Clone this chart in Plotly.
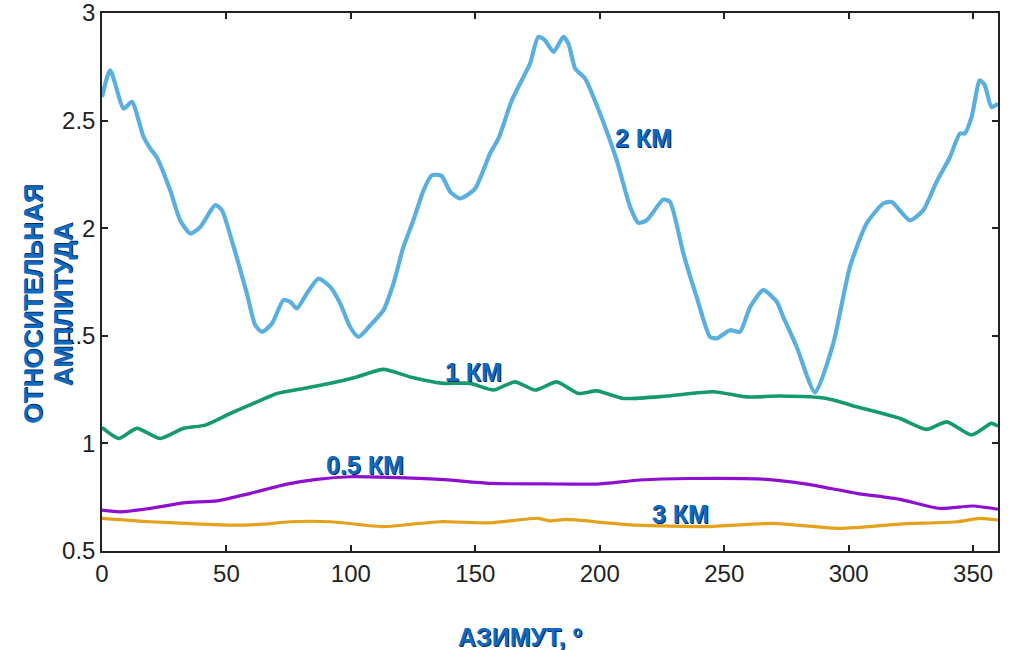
import plotly.graph_objects as go

# 2 KM series
az_2km = [0, 3.3, 8.7, 12, 16.7, 19.4, 22, 27.4, 31.4, 35.5, 39.5, 45.5, 48.2, 52.9, 58.2, 61.6, 64.3,
          68.3, 72.9, 75.6, 78.3, 82.3, 87, 91.7, 95.7, 99.7, 103, 107.8, 113.1, 117.1, 121.1, 125.1,
          129.2, 132.5, 136.5, 139.9, 143.9, 149.9, 155.9, 159.3, 164.7, 170, 172, 175.3, 178, 181.4,
          185.4, 187.4, 190.1, 194.1, 201.4, 206.8, 212.2, 215.5, 218.9, 225.5, 228.2, 233.6, 238.9,
          244.3, 247, 252.3, 256.3, 260.4, 265.7, 271.1, 273.7, 279.1, 286.5, 293.8, 300.5, 307.2,
          313.9, 317.3, 324.6, 330, 335.3, 340.7, 344.7, 346.7, 349.4, 352.7, 354.7, 357.4, 360]
amp_2km = [2.61, 2.734, 2.556, 2.587, 2.424, 2.37, 2.33, 2.176, 2.037, 1.975, 2.006, 2.107, 2.083, 1.913,
           1.697, 1.549, 1.518, 1.557, 1.666, 1.658, 1.627, 1.697, 1.766, 1.727, 1.65, 1.541, 1.495,
           1.549, 1.619, 1.743, 1.913, 2.037, 2.176, 2.246, 2.242, 2.169, 2.138, 2.184, 2.347, 2.417,
           2.595, 2.718, 2.765, 2.889, 2.873, 2.819, 2.889, 2.858, 2.742, 2.695, 2.494, 2.316, 2.099,
           2.025, 2.037, 2.133, 2.122, 1.882, 1.681, 1.495, 1.488, 1.526, 1.518, 1.634, 1.712, 1.658,
           1.588, 1.449, 1.237, 1.464, 1.82, 2.022, 2.115, 2.122, 2.037, 2.084, 2.215, 2.331, 2.44,
           2.44, 2.517, 2.687, 2.664, 2.563, 2.579]

# 1 KM series
az_1km = [0, 6.7, 14, 23.4, 32.8, 41.5, 51.5, 60.9, 70.3, 81, 91.7, 102.4, 113.1, 123.8, 137.2, 147.9,
          157.3, 165.9, 174, 182.7, 191.4, 198.8, 209.5, 226.9, 245.6, 259, 272.4, 291.2, 303.2, 320.6,
          331.3, 339.4, 349.4, 357.4, 360]
amp_1km = [1.074, 1.023, 1.07, 1.023, 1.07, 1.085, 1.139, 1.186, 1.232, 1.255, 1.279, 1.309, 1.344,
           1.309, 1.279, 1.279, 1.248, 1.286, 1.248, 1.286, 1.232, 1.244, 1.209, 1.22, 1.24, 1.216,
           1.22, 1.209, 1.17, 1.116, 1.065, 1.1, 1.039, 1.093, 1.08]

# 0.5 KM series
az_05km = [0, 7.3, 19.4, 32.8, 46.2, 59.6, 74.3, 86.3, 99.7, 115.8, 135.9, 156, 178, 198.8, 216.2,
           236.3, 267.1, 283.1, 303.2, 320.6, 336.7, 350, 360]
amp_05km = [0.69, 0.682, 0.698, 0.724, 0.733, 0.768, 0.811, 0.833, 0.845, 0.842, 0.833, 0.814, 0.812,
            0.811, 0.83, 0.837, 0.833, 0.811, 0.768, 0.74, 0.698, 0.709, 0.694]

# 3 KM series
az_3km = [0, 19.4, 39.5, 52.9, 64.9, 75.6, 91.7, 113.1, 123.8, 135.9, 156, 175.3, 180, 186.7, 202.8,
          214.9, 243, 269.7, 296.5, 320.6, 343.4, 352.7, 360]
amp_3km = [0.652, 0.636, 0.625, 0.62, 0.625, 0.636, 0.636, 0.613, 0.624, 0.636, 0.631, 0.652, 0.64,
           0.647, 0.631, 0.62, 0.613, 0.628, 0.605, 0.625, 0.636, 0.652, 0.644]

x_ticks = [0, 50, 100, 150, 200, 250, 300, 350]
y_ticks = [0.5, 1, 1.5, 2, 2.5, 3]
y_tick_labels = ["0.5", "1", "1.5", "2", "2.5", "3"]

labels = ["2 КМ", "1 КМ", "0.5 КМ", "3 КМ"]
label_x = [217.4, 149.1, 105.7, 232.3]
label_y = [2.418, 1.331, 0.899, 0.672]

series = [
    (az_2km, amp_2km, "#5AAFDE", 4.2),
    (az_1km, amp_1km, "#149A6E", 3.6),
    (az_05km, amp_05km, "#8E0FD0", 3.2),
    (az_3km, amp_3km, "#E4A11B", 3.2),
]

FONT = "Liberation Sans, Arial, Helvetica, sans-serif"

fig = go.Figure()
for xs, ys, col, w in series:
    fig.add_trace(go.Scatter(x=xs, y=ys, mode="lines",
                             line=dict(color=col, width=w, shape="spline", smoothing=0.6),
                             showlegend=False, hoverinfo="skip"))


def lab_font(size):
    return dict(family=FONT, size=size, color="#0F6BC2", weight="bold",
                shadow="1px 1px 0px #0a2a55")


for t, lx, ly in zip(labels, label_x, label_y):
    fig.add_annotation(x=lx, y=ly, text=t, showarrow=False, font=lab_font(25),
                       xanchor="center", yanchor="middle")

fig.add_annotation(xref="paper", yref="paper", x=-0.0766, y=0.4586, text="ОТНОСИТЕЛЬНАЯ",
                   textangle=-90, showarrow=False, font=lab_font(26), xanchor="center", yanchor="middle")
fig.add_annotation(xref="paper", yref="paper", x=-0.0432, y=0.4586, text="АМПЛИТУДА",
                   textangle=-90, showarrow=False, font=lab_font(26), xanchor="center", yanchor="middle")
fig.add_annotation(xref="paper", yref="paper", x=0.467, y=-0.160, text="АЗИМУТ, º",
                   showarrow=False, font=lab_font(25), xanchor="center", yanchor="middle")

axis_common = dict(showline=True, linecolor="#222", linewidth=1.5, mirror="ticks",
                   ticks="inside", ticklen=6, tickcolor="#222", tickwidth=1.5,
                   showgrid=False, zeroline=False, automargin=False, ticklabeloverflow="allow",
                   tickfont=dict(family=FONT, size=24, color="#222"))

fig.update_xaxes(range=[0, 360], tickvals=x_ticks, ticktext=[str(v) for v in x_ticks], **axis_common)
fig.update_yaxes(range=[0.5, 3], tickvals=y_ticks, ticktext=y_tick_labels, **axis_common)

fig.update_layout(width=1012, height=650, plot_bgcolor="white", paper_bgcolor="white",
                  margin=dict(l=102, r=14, t=13, b=99))

# remove the default page margin so the figure sits at the window's top-left corner
fig.write_html("out.html", config={"displayModeBar": False},
               post_script="document.body.style.margin='0';")
